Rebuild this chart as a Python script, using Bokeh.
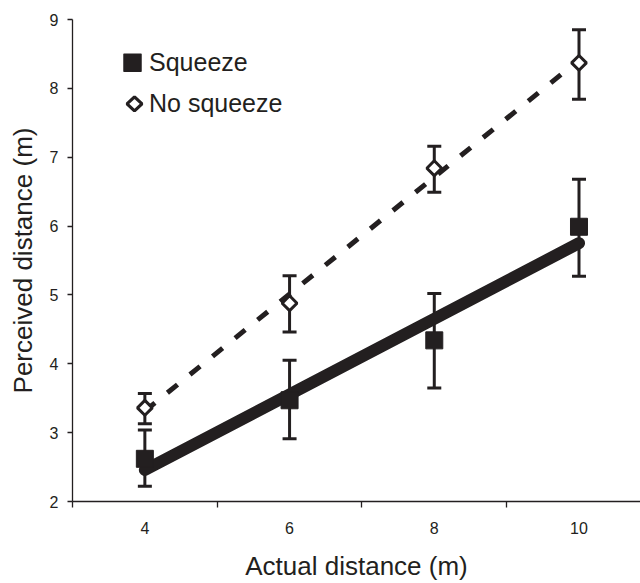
import numpy as np
from bokeh.plotting import figure
from bokeh.models import (ColumnDataSource, Whisker, TeeHead, FixedTicker, Legend,
                          LegendItem, Range1d, PolyAnnotation)
from bokeh.embed import file_html
from bokeh.resources import INLINE

# ---- data ----
actual = [4, 6, 8, 10]
squeeze_mean = [2.62, 3.47, 4.34, 5.99]
squeeze_upper = [3.04, 4.05, 5.02, 6.68]
squeeze_lower = [2.22, 2.91, 3.65, 5.27]
nosq_mean = [3.36, 4.88, 6.84, 8.37]
nosq_upper = [3.57, 5.28, 7.16, 8.85]
nosq_lower = [3.13, 4.46, 6.49, 7.84]
x_tick_labels = [4, 6, 8, 10]
x_boundaries = [3, 5, 7, 9, 11]
y_ticks = [2, 3, 4, 5, 6, 7, 8, 9]
series_names = ["Squeeze", "No squeeze"]

C = "#231f20"
FONT = "Liberation Sans"

p = figure(width=640, height=583, output_backend="svg", toolbar_location=None,
           x_range=Range1d(3, 10.85), y_range=Range1d(2, 9),
           min_border_left=72, min_border_right=0, min_border_top=19,
           min_border_bottom=80)
p.outline_line_color = None
p.xgrid.visible = False
p.ygrid.visible = False

# trendlines (linear fits of the data)
xa = np.array(actual, dtype=float)
fit_sq = np.polyfit(xa, np.array(squeeze_mean), 1)
fit_ns = np.polyfit(xa, np.array(nosq_mean), 1)
xe = [xa[0], xa[-1]]
p.line(xe, list(np.polyval(fit_ns, xe)), line_color=C, line_width=5, line_dash="13 16")
p.line(xe, list(np.polyval(fit_sq, xe)), line_color=C, line_width=12, line_cap="round")

src_sq = ColumnDataSource(dict(x=actual, y=squeeze_mean, upper=squeeze_upper, lower=squeeze_lower))
src_ns = ColumnDataSource(dict(x=actual, y=nosq_mean, upper=nosq_upper, lower=nosq_lower))

r_ns = p.scatter("x", "y", source=src_ns, marker="square", angle=np.pi / 4, size=10.5,
                 fill_color="white", line_color=C, line_width=3)
r_sq = p.scatter("x", "y", source=src_sq, marker="square", size=17,
                 fill_color=C, line_color=C, line_width=1)

for src in (src_sq, src_ns):
    w = Whisker(base="x", upper="upper", lower="lower", source=src,
                line_color=C, line_width=3,
                upper_head=TeeHead(size=14, line_color=C, line_width=3),
                lower_head=TeeHead(size=14, line_color=C, line_width=3))
    p.add_layout(w)

# axes
p.xaxis.ticker = FixedTicker(ticks=x_tick_labels, minor_ticks=x_boundaries)
p.xaxis.major_tick_out = 0
p.xaxis.major_tick_in = 0
p.xaxis.minor_tick_out = 6
p.xaxis.minor_tick_in = 0
p.xaxis.major_label_standoff = 14
p.xaxis.axis_label = "Actual distance (m)"
p.xaxis.axis_label_standoff = 14

p.yaxis.ticker = FixedTicker(ticks=y_ticks, minor_ticks=[])
p.yaxis.major_tick_out = 5
p.yaxis.major_tick_in = 0
p.yaxis.minor_tick_out = 0
p.yaxis.minor_tick_in = 0
p.yaxis.major_label_standoff = 9
p.yaxis.axis_label = "Perceived distance (m)"
p.yaxis.axis_label_standoff = 9

for ax in (p.xaxis[0], p.yaxis[0]):
    ax.axis_line_color = C
    ax.axis_line_width = 1.3
    ax.major_tick_line_color = C
    ax.major_tick_line_width = 1.3
    ax.minor_tick_line_color = C
    ax.minor_tick_line_width = 1.3
    ax.major_label_text_font = FONT
    ax.major_label_text_font_size = "16px"
    ax.major_label_text_color = C
    ax.axis_label_text_font = FONT
    ax.axis_label_text_font_size = "26px"
    ax.axis_label_text_font_style = "normal"
    ax.axis_label_text_color = C

# legend: text entries from Bokeh's Legend; the keys are drawn as screen-space
# polygons (Bokeh legends neither rotate markers nor allow free key sizes)
r_key1 = p.scatter(x=[], y=[], marker="square", fill_alpha=0, line_alpha=0)
r_key2 = p.scatter(x=[], y=[], marker="square", fill_alpha=0, line_alpha=0)
legend = Legend(items=[LegendItem(label=series_names[0], renderers=[r_key1]),
                       LegendItem(label=series_names[1], renderers=[r_key2])],
                location=(47, 377), glyph_width=30, glyph_height=41, label_standoff=0,
                padding=0, margin=0, spacing=0, border_line_color=None,
                background_fill_alpha=0, label_text_font=FONT,
                label_text_font_size="25px", label_text_color=C,
                label_text_baseline="middle")
p.add_layout(legend)

sq_cx, sq_cy, sq_h = 60, 438.7, 8.5
p.add_layout(PolyAnnotation(
    xs=[sq_cx - sq_h, sq_cx + sq_h, sq_cx + sq_h, sq_cx - sq_h],
    ys=[sq_cy + sq_h, sq_cy + sq_h, sq_cy - sq_h, sq_cy - sq_h],
    xs_units="screen", ys_units="screen",
    fill_color=C, fill_alpha=1, line_color=C, line_alpha=1, line_width=1.5,
    line_join="round"))

dm_cx, dm_cy, dm_hw, dm_hh = 62, 397.7, 7.5, 7
p.add_layout(PolyAnnotation(
    xs=[dm_cx, dm_cx + dm_hw, dm_cx, dm_cx - dm_hw],
    ys=[dm_cy + dm_hh, dm_cy, dm_cy - dm_hh, dm_cy],
    xs_units="screen", ys_units="screen",
    fill_color="white", fill_alpha=1, line_color=C, line_alpha=1, line_width=3.2))

open("out.html", "w").write(file_html(p, INLINE))
